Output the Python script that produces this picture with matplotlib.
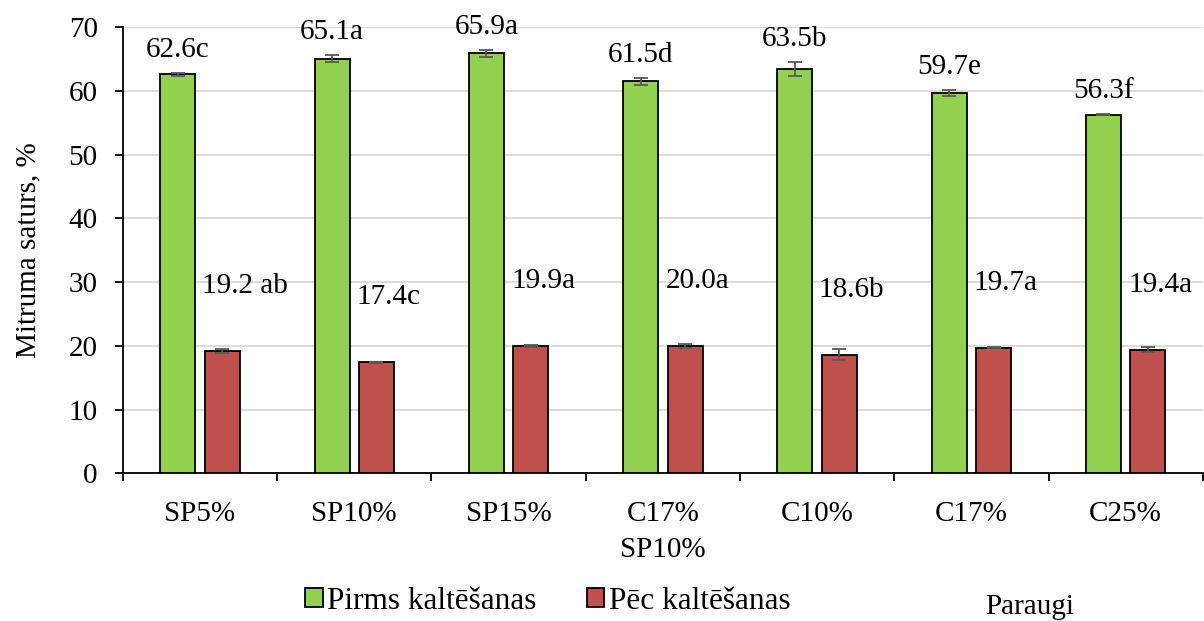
import numpy as np
import matplotlib
matplotlib.use("Agg")
import matplotlib.pyplot as plt
from matplotlib.patches import Patch

plt.rcParams['font.family'] = ['Liberation Serif', 'DejaVu Serif']

# dati
categories = ['SP5%', 'SP10%', 'SP15%', 'C17%\nSP10%', 'C10%', 'C17%', 'C25%']
pirms = [62.6, 65.1, 65.9, 61.5, 63.5, 59.7, 56.3]
pirms_err = [0.3, 0.6, 0.6, 0.6, 1.1, 0.5, 0.1]
pirms_labels = ['62.6c', '65.1a', '65.9a', '61.5d', '63.5b', '59.7e', '56.3f']
pec = [19.2, 17.4, 19.9, 20.0, 18.6, 19.7, 19.4]
pec_err = [0.3, 0.1, 0.15, 0.35, 0.9, 0.1, 0.35]
pec_labels = ['19.2 ab', '17.4c', '19.9a', '20.0a', '18.6b', '19.7a', '19.4a']

green = '#92D050'
red = '#C0504D'
fs = 21

fig = plt.figure(figsize=(12.04, 6.21), dpi=100)
ax = fig.add_axes([0.102, 0.238, 0.897, 0.718])

x = np.arange(len(categories))
w = 0.227
off = 0.144

ax.bar(x - off, pirms, w, color=green, edgecolor='black', linewidth=1.3, zorder=3)
ax.bar(x + off, pec, w, color=red, edgecolor='black', linewidth=1.3, zorder=3)
ax.errorbar(x - off, pirms, yerr=pirms_err, fmt='none', ecolor='#595959',
            elinewidth=1.3, capsize=5, capthick=1.3, zorder=4)
ax.errorbar(x + off, pec, yerr=pec_err, fmt='none', ecolor='#595959',
            elinewidth=1.3, capsize=5, capthick=1.3, zorder=4)

# datu etiķetes
for i in range(len(categories)):
    ax.text(x[i] - off, pirms[i] + pirms_err[i] + 3.6, pirms_labels[i],
            ha='center', va='center', fontsize=fs, clip_on=False)
    dx = 0.15 if i == 0 else 0.08
    ax.text(x[i] + off + dx, pec[i] + 10.2, pec_labels[i],
            ha='center', va='center', fontsize=fs)

ax.set_xlim(-0.5, len(categories) - 0.5)
ax.set_ylim(0, 70)
ax.set_yticks(np.arange(0, 71, 10))
ax.set_xticks(np.arange(-0.5, len(categories), 1.0))
ax.set_xticklabels([])
ax.set_xticks(x, minor=True)
ax.set_xticklabels(categories, minor=True, fontsize=fs, linespacing=1.5)
ax.tick_params(axis='x', which='minor', length=0, pad=20)
ax.tick_params(axis='x', which='major', length=6, width=1.3, direction='out')
ax.tick_params(axis='y', length=6, width=1.3, direction='out', labelsize=fs, pad=12)

ax.yaxis.grid(True, color='#d9d9d9', linewidth=1.3, zorder=0)
ax.set_axisbelow(True)
for s in ['top', 'right']:
    ax.spines[s].set_visible(False)
ax.spines['left'].set_linewidth(1.3)
ax.spines['bottom'].set_linewidth(1.3)

ax.set_ylabel('Mitruma saturs, %', fontsize=fs, labelpad=20)

handles = [Patch(facecolor=green, edgecolor='black', linewidth=1.3, label='Pirms kaltēšanas'),
           Patch(facecolor=red, edgecolor='black', linewidth=1.3, label='Pēc kaltēšanas')]
fig.legend(handles=handles, loc='center', bbox_to_anchor=(0.455, 0.032), ncol=2,
           frameon=False, fontsize=22.5, handlelength=0.55, handleheight=0.55,
           handletextpad=0.15, columnspacing=1.6, borderpad=0)
fig.text(0.855, 0.022, 'Paraugi', ha='center', va='center', fontsize=fs)

fig.savefig('out.png', dpi=100)
